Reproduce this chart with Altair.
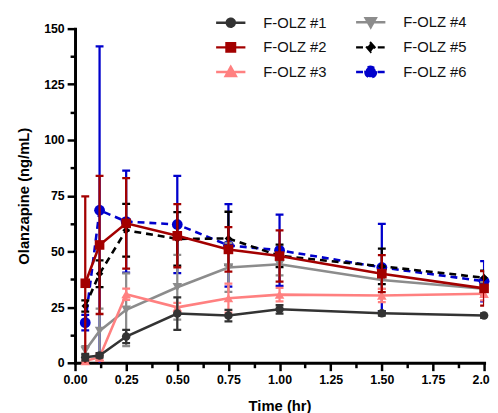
import altair as alt
import pandas as pd

FONT = "Liberation Sans"

# ---- data ----
times = [0.05, 0.12, 0.25, 0.5, 0.75, 1.0, 1.5, 2.0]
names = ["F-OLZ #1", "F-OLZ #2", "F-OLZ #3", "F-OLZ #4", "F-OLZ #5", "F-OLZ #6"]

mean_1 = [2.5, 3.3, 11.8, 22.1, 21.2, 24.0, 22.2, 21.2]
sd_1 = [1.5, 1.0, 3.0, 7.3, 2.6, 1.9, 1.0, 1.0]
mean_2 = [35.7, 52.9, 62.6, 57.0, 50.9, 47.9, 40.0, 33.4]
sd_2 = [39.0, 31.0, 20.3, 14.2, 10.0, 11.5, 8.3, 7.7]
mean_3 = [0.8, 2.5, 30.8, 24.9, 29.0, 30.6, 30.2, 31.0]
sd_3 = [0.5, 1.5, 2.5, 2.0, 6.5, 3.0, 3.0, 3.0]
mean_4 = [5.5, 14.3, 23.8, 33.9, 42.8, 44.2, 37.2, 33.2]
sd_4 = [2.0, 10.0, 16.3, 14.5, 11.0, 5.0, 4.0, 3.0]
mean_5 = [25.5, 40.0, 59.5, 55.6, 55.8, 48.0, 43.3, 38.2]
sd_5 = [2.5, 6.0, 11.8, 12.0, 12.0, 5.0, 8.0, 3.2]
mean_6 = [18.0, 68.5, 63.4, 62.1, 52.7, 50.5, 42.8, 36.6]
sd_6 = [3.5, 73.5, 22.9, 21.8, 18.5, 16.0, 19.6, 9.0]

means = [mean_1, mean_2, mean_3, mean_4, mean_5, mean_6]
sds = [sd_1, sd_2, sd_3, sd_4, sd_5, sd_6]

colors = ["#333333", "#A30000", "#FF8080", "#8C8C8C", "#000000", "#0000CC"]
shapes = ["circle", "square", "triangle-up", "triangle-down", "diamond", "circle"]
sizes = [75, 95, 95, 95, 60, 120]
dashed = [False, False, False, False, True, True]

# legend symbols: line + marker (unit box paths)
legend_paths = [
    "M-1.1,0H1.1M0.3,0A0.3,0.3,0,1,1,-0.3,0A0.3,0.3,0,1,1,0.3,0Z",
    "M-1.1,0H1.1M-0.32,-0.32H0.32V0.32H-0.32Z",
    "M-1.1,0H1.1M0,-0.38L0.38,0.3H-0.38Z",
    "M-1.1,0H1.1M0,0.38L0.38,-0.3H-0.38Z",
    "M-1.1,0H1.1M0,-0.32L0.28,0L0,0.32L-0.28,0Z",
    "M-1.1,0H1.1M0.4,0A0.4,0.4,0,1,1,-0.4,0A0.4,0.4,0,1,1,0.4,0Z",
]

rows = []
for name, m, s in zip(names, means, sds):
    for t, mv, sv in zip(times, m, s):
        rows.append({"series": name, "time": t, "mean": mv, "sd": sv})
df = pd.DataFrame(rows)

xs = alt.Scale(domain=[0, 2], nice=False, zero=False)
ys = alt.Scale(domain=[0, 150], nice=False)

x_axis = alt.Axis(
    values=[i * 0.125 for i in range(17)],
    labelExpr="datum.value % 0.25 == 0 ? format(datum.value, '.2f') : ''",
    tickSize={"condition": {"test": "datum.value % 0.25 != 0", "value": 5}, "value": 8},
    title="Time (hr)",
    labelFlush=False,
    labelOverlap=False,
    titlePadding=13,
)
y_axis = alt.Axis(
    values=[i * 12.5 for i in range(13)],
    labelExpr="datum.value % 25 == 0 ? datum.label : ''",
    tickSize={"condition": {"test": "datum.value % 25 != 0", "value": 5}, "value": 8},
    title="Olanzapine (ng/mL)",
    labelFlush=False,
    labelOverlap=False,
    titlePadding=12,
)


def X():
    return alt.X("time:Q", scale=xs, axis=x_axis)


def Y(field):
    return alt.Y(field, scale=ys, axis=y_axis)


layers = []
for i in reversed(range(6)):
    name = names[i]
    c = colors[i]
    base = alt.Chart(df).transform_filter(alt.datum.series == name).transform_calculate(
        lo="datum.mean - datum.sd", hi="datum.mean + datum.sd"
    )
    rule = base.mark_rule(color=c, strokeWidth=2.3, clip=True).encode(
        x=X(), y=Y("lo:Q"), y2="hi:Q"
    )
    cap_hi = base.mark_tick(
        color=c, orient="horizontal", size=8, thickness=2.3, opacity=1, clip=True
    ).encode(x=X(), y=Y("hi:Q"))
    cap_lo = base.mark_tick(
        color=c, orient="horizontal", size=8, thickness=2.3, opacity=1, clip=True
    ).encode(x=X(), y=Y("lo:Q"))
    line_kw = dict(color=c, strokeWidth=2.6)
    if dashed[i]:
        line_kw["strokeDash"] = [7, 5]
    line = base.mark_line(**line_kw).encode(x=X(), y=Y("mean:Q"))
    pts = base.mark_point(
        shape=shapes[i], filled=True, size=sizes[i], color=c, opacity=1
    ).encode(x=X(), y=Y("mean:Q"))
    layers += [rule, cap_hi, cap_lo, line, pts]

# legend (two columns: #1-#3 left, #4-#6 right; entries fill column-wise)
leg_domain = names
leg_colors = colors
leg_paths = legend_paths
leg_dash = [[7, 4] if d else [1, 0] for d in dashed]

leg = alt.Legend(
    title=None,
    orient="none",
    legendX=143,
    legendY=-22,
    columns=2,
    symbolSize=729,
    symbolStrokeWidth=2.5,
    labelFont=FONT,
    labelFontSize=15,
    labelColor="#111111",
    labelOffset=18,
    rowPadding=0,
    columnPadding=24,
    padding=0,
)

legend_layer = (
    alt.Chart(df)
    .transform_filter("false")
    .mark_point(filled=True, opacity=1, size=729)
    .encode(
        x=X(),
        y=Y("mean:Q"),
        fill=alt.Fill("series:N", scale=alt.Scale(domain=leg_domain, range=leg_colors), legend=leg),
        stroke=alt.Stroke("series:N", scale=alt.Scale(domain=leg_domain, range=leg_colors), legend=leg),
        shape=alt.Shape("series:N", scale=alt.Scale(domain=leg_domain, range=leg_paths), legend=leg),
        strokeDash=alt.StrokeDash("series:N", scale=alt.Scale(domain=leg_domain, range=leg_dash), legend=leg),
    )
)

chart = (
    alt.layer(*layers, legend_layer)
    .properties(
        width=415,
        height=339,
        autosize=alt.AutoSizeParams(type="none"),
        padding={"left": 68, "top": 18, "right": 6, "bottom": 48},
    )
    .configure_view(stroke=None)
    .configure_axis(
        grid=False,
        domainColor="black",
        domainWidth=3,
        domainCap="square",
        tickColor="black",
        tickWidth=2.5,
        labelFont=FONT,
        labelFontWeight="bold",
        labelFontSize=12.5,
        labelColor="black",
        labelPadding=3,
        titleFont=FONT,
        titleFontWeight="bold",
        titleFontSize=15,
        titleColor="black",
    )
)

chart.save("out.html", embed_options={"renderer": "svg", "actions": False})
